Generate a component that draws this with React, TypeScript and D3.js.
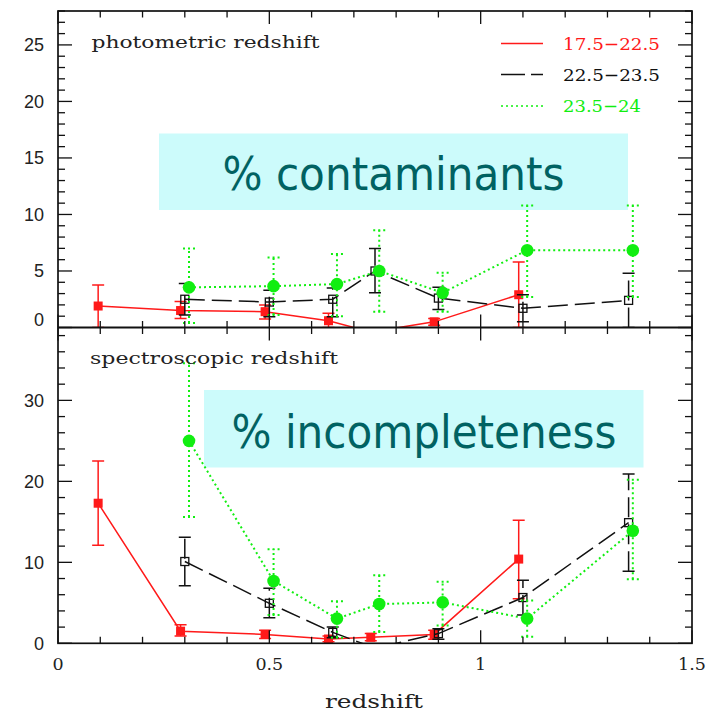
import React from "react";
import * as d3 from "d3";

const W = 719;
const H = 711;

// Redshift bin centres for each magnitude range (slightly offset so bars don't overlap)
const brightX = [0.095, 0.29, 0.49, 0.64, 0.74, 0.89, 1.09];
const midX = [0.3, 0.5, 0.65, 0.75, 0.9, 1.1, 1.35];
const faintX = [0.31, 0.51, 0.66, 0.76, 0.91, 1.11, 1.36];

// Photometric redshift: % contaminants
const photBright = [1.9, 1.5, 1.4, 0.6, -0.4, 0.5, 2.9];
const photBrightLo = [0, 0.8, 0.75, 0, 0, 0.2, 0];
const photBrightHi = [3.75, 2.3, 2.0, 1.25, 0, 0.8, 5.8];

const photMid = [2.5, 2.25, 2.5, 5.0, 2.6, 1.7, 2.4];
const photMidLo = [1.1, 0.95, 0.95, 3.07, 1.6, 0.5, 0];
const photMidHi = [3.9, 3.3, 3.5, 7.0, 3.55, 2.9, 4.8];

const photFaint = [3.55, 3.66, 3.84, 5.0, 3.07, 6.84, 6.84];
const photFaintLo = [0.4, 1.1, 1.0, 1.4, 1.4, 2.7, 2.7];
const photFaintHi = [7.0, 6.2, 6.5, 8.6, 4.84, 10.8, 10.8];

// Spectroscopic redshift: % incompleteness
const specBright = [17.3, 1.5, 1.1, 0.53, 0.74, 1.1, 10.4];
const specBrightLo = [12.1, 0.9, 0.6, 0.2, 0.3, 0.5, 5.5];
const specBrightHi = [22.5, 2.3, 1.6, 0.9, 1.2, 1.6, 15.2];

const specMid = [10.1, 4.94, 1.35, -0.6, 1.2, 5.65, 14.9];
const specMidLo = [7.1, 3.16, 0.7, 0, 0.5, 3.5, 8.9];
const specMidHi = [13.1, 6.8, 2.0, 0, 1.8, 7.8, 20.9];

const specFaint = [25.0, 7.7, 3.05, 4.85, 5.05, 3.05, 13.9];
const specFaintLo = [15.6, 3.5, 0.7, 1.4, 2.2, 0.8, 7.9];
const specFaintHi = [34.6, 11.6, 5.2, 8.4, 7.6, 5.3, 20.2];

const legendLabels = ["17.5\u221222.5", "22.5\u221223.5", "23.5\u221224"];
const xTickLabels = ["0", "0.5", "1", "1.5"];
const xTickValues = [0, 0.5, 1, 1.5];
const topYTicks = [0, 5, 10, 15, 20, 25];
const botYTicks = [0, 10, 20, 30];

const RED = "#ff1a1a";
const GREEN = "#11ee11";
const BLACK = "#111";

const L = 58;
const R = 692;
const TOP = 11;
const MID = 327.5;
const BOT = 643.3;

const x = d3.scaleLinear().domain([0, 1.5]).range([L, R]);
const yTop = d3.scaleLinear().domain([0, 28]).range([MID, TOP]);
const yBot = d3.scaleLinear().domain([0, 39]).range([BOT, MID]);

type Series = {
  xs: number[];
  ys: number[];
  lo: number[];
  hi: number[];
  color: string;
  dash?: string;
  width: number;
  marker: "fillSquare" | "openSquare" | "circle";
};

function SeriesMarks({ s, y }: { s: Series; y: d3.ScaleLinear<number, number> }) {
  const pts: [number, number][] = s.xs.map((v, i) => [v, s.ys[i]]);
  const line = d3
    .line<[number, number]>()
    .x((d) => x(d[0]))
    .y((d) => y(d[1]));
  const cap = 6;
  return (
    <g>
      <path d={line(pts) || ""} fill="none" stroke={s.color} strokeWidth={s.width} strokeDasharray={s.dash} />
      {s.xs.map((v, i) => {
        if (s.hi[i] === s.lo[i]) return null;
        const cx = x(v);
        const y1 = y(s.lo[i]);
        const y2 = y(s.hi[i]);
        return (
          <g key={"e" + i} stroke={s.color} strokeWidth={s.width} strokeDasharray={s.dash}>
            <line x1={cx} x2={cx} y1={y1} y2={y2} />
            <line x1={cx - cap} x2={cx + cap} y1={y2} y2={y2} />
            <line x1={cx - cap} x2={cx + cap} y1={y1} y2={y1} />
          </g>
        );
      })}
      {s.xs.map((v, i) => {
        const cx = x(v);
        const cy = y(s.ys[i]);
        if (s.marker === "fillSquare")
          return <rect key={"m" + i} x={cx - 4.5} y={cy - 4.5} width={9} height={9} fill={s.color} />;
        if (s.marker === "openSquare")
          return (
            <rect key={"m" + i} x={cx - 4} y={cy - 4} width={8} height={8} fill="none" stroke={s.color} strokeWidth={1.3} />
          );
        return <circle key={"m" + i} cx={cx} cy={cy} r={6.3} fill={s.color} />;
      })}
    </g>
  );
}

function makeSeries(
  bright: number[], bLo: number[], bHi: number[],
  mid: number[], mLo: number[], mHi: number[],
  faint: number[], fLo: number[], fHi: number[]
): Series[] {
  return [
    { xs: brightX, ys: bright, lo: bLo, hi: bHi, color: RED, width: 1.5, marker: "fillSquare" },
    { xs: midX, ys: mid, lo: mLo, hi: mHi, color: BLACK, dash: "20 7", width: 1.5, marker: "openSquare" },
    { xs: faintX, ys: faint, lo: fLo, hi: fHi, color: GREEN, dash: "2 3", width: 2, marker: "circle" },
  ];
}

const topSeries = makeSeries(
  photBright, photBrightLo, photBrightHi,
  photMid, photMidLo, photMidHi,
  photFaint, photFaintLo, photFaintHi
);
const botSeries = makeSeries(
  specBright, specBrightLo, specBrightHi,
  specMid, specMidLo, specMidHi,
  specFaint, specFaintLo, specFaintHi
);

function YTicks({ y, max, step, major }: { y: d3.ScaleLinear<number, number>; max: number; step: number; major: number }) {
  const vals = d3.range(0, max + 0.001, step);
  return (
    <g stroke={BLACK} strokeWidth={1.3}>
      {vals.map((v) => {
        const len = Math.abs(v % major) < 1e-6 ? 14 : 7;
        const yy = y(v);
        return (
          <g key={v}>
            <line x1={L} x2={L + len} y1={yy} y2={yy} />
            <line x1={R} x2={R - len} y1={yy} y2={yy} />
          </g>
        );
      })}
    </g>
  );
}

function XTicks() {
  const vals = d3.range(0, 1.5001, 0.1);
  return (
    <g stroke={BLACK} strokeWidth={1.3}>
      {vals.map((v) => {
        const major = Math.abs((v * 10) % 5) < 1e-6 || Math.abs((v * 10) % 5 - 5) < 1e-6;
        const len = major ? 13 : 6.5;
        const xx = x(v);
        return (
          <g key={v}>
            <line x1={xx} x2={xx} y1={TOP} y2={TOP + len} />
            <line x1={xx} x2={xx} y1={MID} y2={MID - len} />
            <line x1={xx} x2={xx} y1={MID} y2={MID + len} />
            <line x1={xx} x2={xx} y1={BOT} y2={BOT - len} />
          </g>
        );
      })}
    </g>
  );
}

export default function App() {
  const legendY = [43.5, 74.5, 106];
  const legendColors = [RED, BLACK, GREEN];
  const legendDash = [undefined, "24 6", "2 3"];
  const legendWidths = [97, 97, 78];
  return (
    <svg
      width={W}
      height={H}
      viewBox={`0 0 ${W} ${H}`}
      style={{ position: "absolute", left: 0, top: 0, background: "#fff" }}
    >
      <defs>
        <clipPath id="clipTop">
          <rect x={L} y={TOP} width={R - L} height={MID - TOP} />
        </clipPath>
        <clipPath id="clipBot">
          <rect x={L} y={MID} width={R - L} height={BOT - MID} />
        </clipPath>
      </defs>

      {/* annotation boxes */}
      <rect x={159} y={133.5} width={469} height={76.5} fill="#ccfbfb" />
      <text
        x={222.5}
        y={190}
        fontFamily="'DejaVu Sans', sans-serif"
        fontSize={46}
        fill="#006262"
        textLength={342}
        lengthAdjust="spacingAndGlyphs"
      >
        % contaminants
      </text>
      <rect x={204} y={390} width={439.5} height={77.5} fill="#ccfbfb" />
      <text
        x={231.5}
        y={447.5}
        fontFamily="'DejaVu Sans', sans-serif"
        fontSize={46}
        fill="#006262"
        textLength={385}
        lengthAdjust="spacingAndGlyphs"
      >
        % incompleteness
      </text>

      {/* data */}
      <g clipPath="url(#clipTop)">
        {topSeries.map((s, i) => (
          <SeriesMarks key={i} s={s} y={yTop} />
        ))}
      </g>
      <g clipPath="url(#clipBot)">
        {botSeries.map((s, i) => (
          <SeriesMarks key={i} s={s} y={yBot} />
        ))}
      </g>

      {/* frame and ticks */}
      <rect x={L} y={TOP} width={R - L} height={BOT - TOP} fill="none" stroke={BLACK} strokeWidth={1.7} />
      <line x1={L} x2={R} y1={MID} y2={MID} stroke={BLACK} strokeWidth={2} />
      <YTicks y={yTop} max={28} step={1} major={5} />
      <YTicks y={yBot} max={38} step={2} major={10} />
      <XTicks />

      {/* tick labels */}
      <g fontFamily="'Liberation Sans', Arial, sans-serif" fontSize={18} fill="#222" textAnchor="end">
        {topYTicks.map((v) => (
          <text key={"t" + v} x={44} y={v === 0 ? yTop(v) - 2 : yTop(v) + 6.5}>
            {v}
          </text>
        ))}
        {botYTicks.map((v) => (
          <text key={"b" + v} x={44} y={yBot(v) + 6.5}>
            {v}
          </text>
        ))}
      </g>
      <g fontFamily="'DejaVu Serif', serif" fontSize={17.5} fill="#222" textAnchor="middle">
        {xTickValues.map((v, i) => (
          <text key={v} x={x(v)} y={669.5}>
            {xTickLabels[i]}
          </text>
        ))}
        <text x={374} y={708} fontSize={19} textLength={98} lengthAdjust="spacingAndGlyphs">
          redshift
        </text>
      </g>

      {/* panel titles */}
      <g fontFamily="'DejaVu Serif', serif" fontSize={17.5} fill="#222">
        <text x={91.5} y={47.5} textLength={228} lengthAdjust="spacingAndGlyphs">
          photometric redshift
        </text>
        <text x={90} y={363.5} textLength={248} lengthAdjust="spacingAndGlyphs">
          spectroscopic redshift
        </text>
      </g>

      {/* legend */}
      {legendLabels.map((lab, i) => (
        <g key={lab}>
          <line
            x1={501}
            x2={543}
            y1={legendY[i]}
            y2={legendY[i]}
            stroke={legendColors[i]}
            strokeWidth={i === 2 ? 1.6 : 1.4}
            strokeDasharray={legendDash[i]}
          />
          <text
            x={563}
            y={legendY[i] + 6}
            fontFamily="'DejaVu Serif', serif"
            fontSize={17.5}
            fill={legendColors[i]}
            textLength={legendWidths[i]}
            lengthAdjust="spacingAndGlyphs"
          >
            {lab}
          </text>
        </g>
      ))}
    </svg>
  );
}
